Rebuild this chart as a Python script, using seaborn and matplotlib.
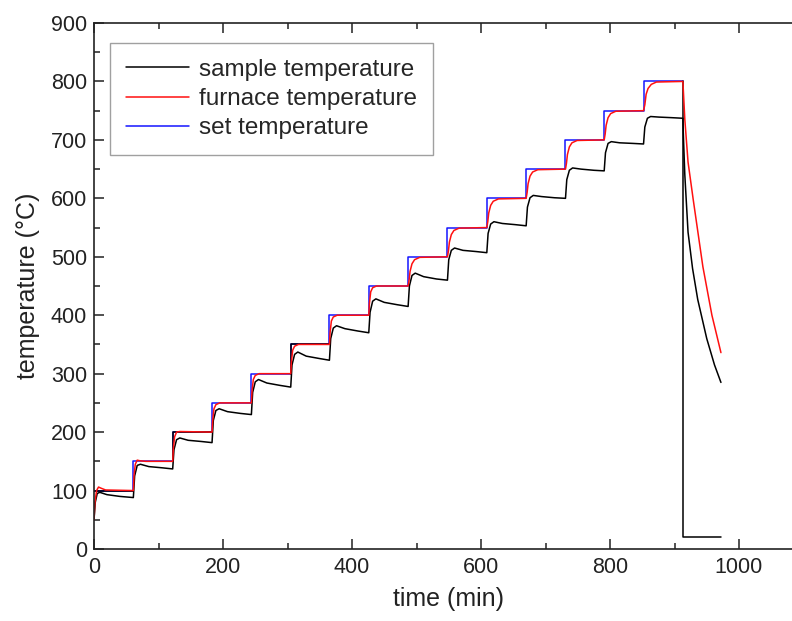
import matplotlib
matplotlib.use("Agg")
import matplotlib.pyplot as plt
import seaborn as sns
import pandas as pd
from matplotlib.ticker import MultipleLocator

# ---------------- data ----------------
step_time = [0, 61, 122, 183, 244, 305, 365, 426, 487, 548, 609, 670, 731, 791, 852, 913]
set_temp = [100, 150, 200, 250, 300, 350, 400, 450, 500, 550, 600, 650, 700, 750, 800, 800]

sample_time = [0, 2, 5, 9, 20, 40,
               61, 63, 67, 72, 85, 105,
               122, 124, 128, 133, 146, 166,
               183, 185, 189, 194, 207, 227,
               244, 246, 250, 255, 268, 288,
               305, 307, 311, 316, 329, 349,
               365, 367, 371, 376, 389, 409,
               426, 428, 432, 437, 450, 470,
               487, 489, 493, 498, 511, 531,
               548, 550, 554, 559, 572, 592,
               609, 611, 615, 620, 633, 653,
               670, 672, 676, 681, 694, 714,
               731, 733, 737, 742, 755, 775,
               791, 793, 797, 802, 815, 835,
               852, 854, 858, 863, 876, 896,
               913, 914, 916, 921, 928, 936, 950, 962, 972]
sample_temp = [50, 80, 95, 97, 93, 90,
               88, 125, 143, 145, 141, 139,
               137, 170, 187, 190, 186, 184,
               182, 220, 237, 240, 235, 232,
               230, 268, 286, 290, 284, 280,
               277, 315, 333, 337, 330, 326,
               323, 360, 378, 382, 377, 373,
               370, 405, 424, 428, 422, 418,
               415, 450, 468, 472, 466, 462,
               460, 495, 511, 515, 511, 509,
               507, 540, 556, 560, 557, 555,
               553, 585, 601, 605, 603, 601,
               600, 632, 648, 652, 650, 648,
               647, 678, 694, 697, 695, 694,
               693, 722, 737, 740, 739, 738,
               737, 700, 640, 542, 480, 427, 360, 315, 285]

furnace_time = [0, 1.5, 4, 7, 11, 18,
                61, 62, 64, 67, 71, 80,
                122, 123, 125, 128, 133,
                183, 184, 186, 189, 195,
                244, 245, 247, 250, 256,
                305, 306, 308, 311, 317,
                365, 366, 368, 371, 377,
                426, 427, 429, 432, 438,
                487, 488.5, 490, 493, 497, 505,
                548, 549.5, 551, 554, 558, 566,
                609, 610.5, 612, 615, 619, 627,
                670, 671.5, 673, 676, 680, 688,
                731, 732.5, 734, 737, 741, 749,
                791, 792.5, 794, 797, 801, 809,
                852, 854, 856, 859, 864, 872,
                913, 916, 921, 929, 944, 958, 972]
furnace_temp = [50, 80, 100, 106, 104, 101,
                100, 125, 145, 152, 151, 150,
                150, 172, 192, 200, 201,
                200, 220, 240, 247, 250,
                250, 270, 290, 297, 300,
                300, 320, 340, 347, 350,
                350, 370, 390, 397, 400,
                400, 420, 440, 447, 450,
                450, 460, 475, 488, 495, 499,
                500, 510, 525, 538, 545, 549,
                550, 560, 575, 588, 595, 599,
                600, 610, 625, 638, 645, 649,
                650, 660, 675, 688, 695, 699,
                700, 710, 725, 738, 745, 749,
                750, 760, 778, 788, 795, 799,
                800, 735, 662, 598, 483, 400, 336]

# black program trace visible where it covers the set-point line
program_time = [0, 61, 122, 122, 183, 305, 305, 365, 913, 913, 972]
program_temp = [100, 100, 150, 200, 200, 300, 350, 350, 800, 20, 20]
program_seg = [1, 1, 2, 2, 2, 3, 3, 3, 4, 4, 4]

labels = ["sample temperature", "furnace temperature", "set temperature"]

# ---------------- plotting ----------------
sns.set_theme(style="white")
plt.rcParams["font.family"] = ["Liberation Sans", "DejaVu Sans"]

fig = plt.figure(figsize=(7.92, 6.21), dpi=100)
ax = fig.add_axes([94 / 792, 72 / 621, 709.5 / 792, 526 / 621])

df_prog = pd.DataFrame({"t": program_time, "T": program_temp, "seg": program_seg})
df_set = pd.DataFrame({"t": step_time, "T": set_temp})
df_sample = pd.DataFrame({"t": sample_time, "T": sample_temp})
df_furn = pd.DataFrame({"t": furnace_time, "T": furnace_temp})

sns.lineplot(data=df_set, x="t", y="T", ax=ax, color="#1515ff", lw=1.1,
             sort=False, estimator=None, drawstyle="steps-post", label=labels[2])
sns.lineplot(data=df_prog, x="t", y="T", units="seg", ax=ax, color="black", lw=1.1,
             sort=False, estimator=None, legend=False)
sns.lineplot(data=df_sample, x="t", y="T", ax=ax, color="black", lw=1.1,
             sort=False, estimator=None, label=labels[0])
sns.lineplot(data=df_furn, x="t", y="T", ax=ax, color="#ff1010", lw=1.1,
             sort=False, estimator=None, label=labels[1])

ax.set_xlim(0, 1100)
ax.set_ylim(0, 900)
ax.xaxis.set_major_locator(MultipleLocator(200))
ax.xaxis.set_minor_locator(MultipleLocator(100))
ax.yaxis.set_major_locator(MultipleLocator(100))
ax.yaxis.set_minor_locator(MultipleLocator(50))
ax.tick_params(which="both", direction="in", top=True, right=True,
               bottom=True, left=True, width=1.1, colors="#222222",
               labelcolor="#222222", labelsize=15.5)
ax.tick_params(which="major", length=7)
ax.tick_params(which="minor", length=4)
ax.tick_params(axis="x", pad=6)
ax.tick_params(axis="y", pad=5)
for s in ax.spines.values():
    s.set_linewidth(1.2)
    s.set_color("#222222")

ax.set_xlabel("time (min)", fontsize=18, color="#222222", labelpad=6)
ax.set_ylabel("temperature (°C)", fontsize=18, color="#222222", labelpad=8)

handles, labs = ax.get_legend_handles_labels()
order = [labs.index(l) for l in labels]
leg = ax.legend([handles[i] for i in order], [labs[i] for i in order],
                loc="upper left", bbox_to_anchor=(16 / 709.5, 1 - 20 / 526),
                borderaxespad=0, frameon=True, fancybox=False, fontsize=17.5,
                handlelength=2.6, handletextpad=0.4, borderpad=0.65,
                labelspacing=0.3, edgecolor="#888888")
leg.get_frame().set_linewidth(1.0)
leg.get_frame().set_boxstyle("square", pad=0)

fig.savefig("out.png", dpi=100)
